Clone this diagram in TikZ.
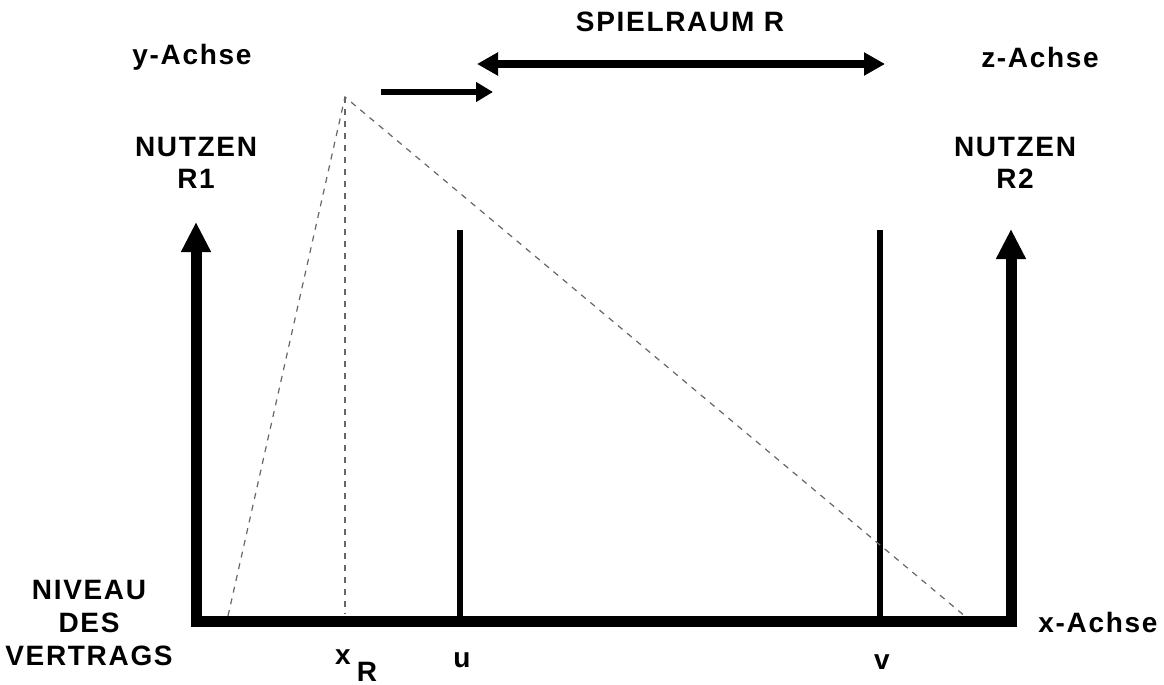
\documentclass[tikz,border=0pt]{standalone}
\usepackage{fontspec}
\setmainfont{Liberation Sans}
\usepackage{tikz}
\usetikzlibrary{arrows.meta,positioning}

\begin{document}
\begin{tikzpicture}[
  x=0.5pt, y=-0.5pt,
  every node/.style={font=\fontsize{14}{16}\selectfont\bfseries\addfontfeature{LetterSpace=6}, inner sep=0pt},
  axis/.style={line width=5.5pt, miter limit=10,
               {Triangle[width=14pt,length=15pt]}-{Triangle[width=14pt,length=15pt]}},
  bar line/.style={line width=3.4pt},
  guide/.style={gray!80!black, line width=0.6pt, dash pattern=on 3pt off 3pt},
  range arr/.style={line width=4pt, {Triangle[width=11pt,length=10.5pt]}-{Triangle[width=11pt,length=10.5pt]}},
  shift arr/.style={line width=3.3pt, -{Triangle[width=9.5pt,length=8.5pt]}}
]
\useasboundingbox (0,0) rectangle (1164,685);

% axes
\coordinate (ytip) at (196,222);
\coordinate (o) at (196,621);
\coordinate (e) at (1011,621);
\coordinate (ztip) at (1011,229);
\draw[axis] (ytip) -- (o) -- (e) -- (ztip);

% u and v
\coordinate (utop) at (460,230);
\coordinate (ubot) at (460,621);
\coordinate (vtop) at (880,230);
\coordinate (vbot) at (880,621);
\draw[bar line] (utop) -- (ubot);
\draw[bar line] (vtop) -- (vbot);

% dashed guides
\coordinate (apex) at (345,97);
\coordinate (gl) at (228,616);
\coordinate (xr) at (345,614);
\coordinate (gr) at (966,617);
\draw[guide] (gl) -- (apex) -- (gr);
\draw[guide] (apex) -- (xr);

% arrows at top
\coordinate (s1) at (381,92);
\coordinate (s2) at (493,92);
\draw[shift arr] (s1) -- (s2);
\coordinate (r1) at (477,64);
\coordinate (r2) at (885,64);
\draw[range arr] (r1) -- (r2);

% labels
\node (spiel) at (680,22) {SPIELRAUM R};
\node (yach) at (192,57) {y-Achse};
\node (zach) at (1040,57) {z-Achse};
\node (n1) at (196,147) {NUTZEN};
\node (r1l) at (196,179) {R1};
\node (n2) at (1015,147) {NUTZEN};
\node (r2l) at (1015,179) {R2};
\node (niv) at (89,590) {NIVEAU};
\node (des) at (89,623) {DES};
\node (vert) at (89,656) {VERTRAGS};
\node (xach) at (1098,622) {x-Achse};
\node (xlab) at (343,657) {x};
\node (rsub) at (367,672) {R};
\node (ulab) at (462,660) {u};
\node (vlab) at (882,662) {v};

\end{tikzpicture}
\end{document}
